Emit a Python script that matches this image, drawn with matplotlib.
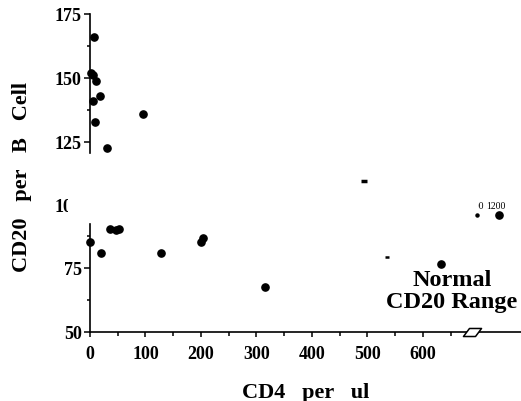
import matplotlib
matplotlib.use("Agg")
import matplotlib.pyplot as plt
from matplotlib.path import Path
from matplotlib.transforms import Bbox
from matplotlib.ticker import FixedLocator

# ---------------- data ----------------
upper_x = [7, 2, 6, 11, 5, 18, 9, 31, 96]
upper_y = [166, 152, 151, 149, 141, 143, 133, 122.5, 136]

lower_x = [0, 20, 36, 46, 52, 128, 200, 203, 315, 632]
lower_y = [85.3, 81, 90.3, 89.7, 90.2, 81, 85.3, 86.7, 67.6, 76.5]

# partially erased points (fragments in the scan)
frag_x = [494, 536]
frag_y = [108.8, 79.2]

right_x = [1230]
right_y = [95.6]
right_frag_x = [1025]
right_frag_y = [95.6]
right_labels = ["1000", "1200"]
right_label_pos = [1000, 1200]

x_ticks = [0, 100, 200, 300, 400, 500, 600]
x_minor = [50, 150, 250, 350, 450, 550, 650]
top_ticks = [125, 150, 175]
top_minor = [137.5, 162.5]
bot_ticks = [50, 75]
bot_minor = [62.5, 87.5]

W, H = 521, 402
FONT = "Liberation Serif"

plt.rcParams["font.family"] = FONT
plt.rcParams["font.weight"] = "bold"

fig = plt.figure(figsize=(W / 100, H / 100), dpi=100)
fig.patch.set_facecolor("white")


def px_rect(x0, y_top, x1, y_bot):
    return [x0 / W, 1 - y_bot / H, (x1 - x0) / W, (y_bot - y_top) / H]


XLIM = (0, 776.6)

# ---------------- bottom panel ----------------
ax_b = fig.add_axes(px_rect(90, 205, 521, 333))
ax_b.set_xlim(*XLIM)
ax_b.set_ylim(50, 100)
ax_b.patch.set_alpha(0)
for s in ["top", "right"]:
    ax_b.spines[s].set_visible(False)
ax_b.spines["left"].set_bounds(50, 92)
ax_b.spines["left"].set_linewidth(1.2)
ax_b.spines["bottom"].set_linewidth(1.2)
ax_b.set_xticks(x_ticks)
ax_b.xaxis.set_minor_locator(FixedLocator(x_minor))
ax_b.set_yticks(bot_ticks)
ax_b.yaxis.set_minor_locator(FixedLocator(bot_minor))
ax_b.tick_params(axis="x", which="major", direction="out", length=3.5, width=1.1,
                 labelsize=13, pad=6)
ax_b.tick_params(axis="x", which="minor", direction="out", length=3, width=1.1)
ax_b.tick_params(axis="y", which="major", direction="out", length=4.5, width=1.1,
                 labelsize=13, pad=1.5)
ax_b.tick_params(axis="y", which="minor", direction="out", length=2.5, width=1.1)
for lab in ax_b.get_xticklabels() + ax_b.get_yticklabels():
    lab.set_fontweight("bold")

ax_b.plot(lower_x, lower_y, "o", color="black", ms=5.2, clip_on=False)
ax_b.plot(frag_x[0], frag_y[0], "_", color="black", ms=5, mew=2.5, clip_on=False)
ax_b.plot(frag_x[1], frag_y[1], "_", color="black", ms=3.5, mew=1.8, clip_on=False)

# axis-break symbol on the x axis
brk = Path([(-9, -4), (3, -4), (9, 4), (-3, 4), (-9, -4)],
           [Path.MOVETO, Path.LINETO, Path.LINETO, Path.LINETO, Path.CLOSEPOLY])
ax_b.plot([689], [50], marker=brk, ms=13, mfc="white", mec="black", mew=1.1,
          clip_on=False, zorder=5)

ax_b.set_xlabel("CD4   per   ul", fontsize=16, fontweight="bold", labelpad=14)

# clipped "100" label (only "1C" visible)
t100 = fig.text(81 / W, 1 - 208 / H, "100", ha="right", va="center",
                fontsize=13, fontweight="bold")
t100.set_clip_box(Bbox.from_extents(0, 0, 68, H))
t100.set_clip_on(True)

# ---------------- top panel ----------------
ax_t = fig.add_axes(px_rect(90, 13.7, 521, 154))
ax_t.set_xlim(*XLIM)
ax_t.set_ylim(120.7, 175.5)
ax_t.patch.set_alpha(0)
for s in ["top", "right", "bottom"]:
    ax_t.spines[s].set_visible(False)
ax_t.spines["left"].set_bounds(120.7, 175)
ax_t.spines["left"].set_linewidth(1.2)
ax_t.set_xticks([])
ax_t.set_yticks(top_ticks)
ax_t.yaxis.set_minor_locator(FixedLocator(top_minor))
ax_t.tick_params(axis="y", which="major", direction="out", length=4.5, width=1.1,
                 labelsize=13, pad=1.5)
ax_t.tick_params(axis="y", which="minor", direction="out", length=2.5, width=1.1)
for lab in ax_t.get_yticklabels():
    lab.set_fontweight("bold")
ax_t.plot(upper_x, upper_y, "o", color="black", ms=5.2, clip_on=False)

# ---------------- right segment (beyond the break) ----------------
ax_r = fig.add_axes(px_rect(460, 205, 521, 333))
ax_r.set_xlim(872.7, 1427)
ax_r.set_ylim(50, 100)
ax_r.axis("off")
ax_r.plot(right_x, right_y, "o", color="black", ms=5.2, clip_on=False)
ax_r.plot(right_frag_x, right_frag_y, "o", color="black", ms=2.2, clip_on=False)
for xp, lab in zip(right_label_pos, right_labels):
    t = ax_r.text(xp, 99.3, lab, ha="center", va="center", fontsize=7,
                  fontweight="normal")
    if lab == "1000":
        t.set_clip_box(Bbox.from_extents(478, 0, W, H))
        t.set_clip_on(True)

# ---------------- texts ----------------
fig.text(452 / W, 1 - 281 / H, "Normal", ha="center", va="center",
         fontsize=17.5, fontweight="bold")
fig.text(452 / W, 1 - 303 / H, "CD20 Range", ha="center", va="center",
         fontsize=17.5, fontweight="bold")

fig.text(22 / W, 1 - 176.5 / H, "CD20   per   B   Cell", rotation=90,
         ha="center", va="center", fontsize=16, fontweight="bold")

fig.savefig("out.png", dpi=100)
